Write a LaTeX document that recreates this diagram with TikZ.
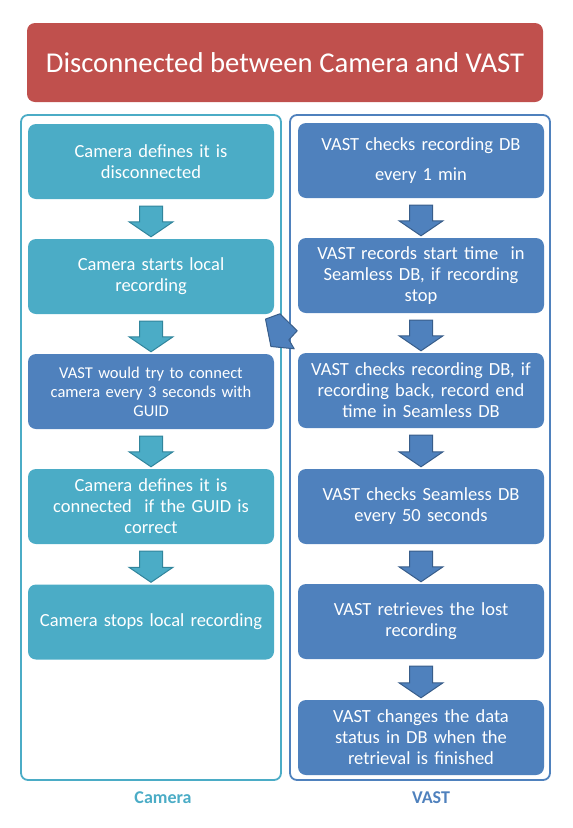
\documentclass[tikz,border=0pt]{standalone}
\usepackage{fontspec}
\setmainfont{Carlito}
\usetikzlibrary{calc}

\definecolor{titlered}{HTML}{C0504D}
\definecolor{camteal}{HTML}{4BACC6}
\definecolor{camtealdark}{HTML}{31859C}
\definecolor{vastblue}{HTML}{4F81BD}
\definecolor{vastbluedark}{HTML}{385D8A}

% block arrow from the bottom of one step to the top of the next
\newcommand{\stepdown}[3]{%
  \draw [#3] ($(#1.south)+(-11.5,-7)$) -- ($(#1.south)+(11.5,-7)$)
    -- ($(#2.north)+(11.5,17)$) -- ($(#2.north)+(22,17)$) -- ($(#2.north)+(0,2)$)
    -- ($(#2.north)+(-22,17)$) -- ($(#2.north)+(-11.5,17)$) -- cycle;}

\tikzset{
  titlebox/.style={rectangle, rounded corners=8pt, fill=titlered, text=white,
    minimum width=516pt, minimum height=79pt, font=\fontsize{28.7}{32}\selectfont},
  camstep/.style={rectangle, rounded corners=8pt, fill=camteal, text=white,
    minimum width=246pt, minimum height=75pt, inner sep=4pt, text width=238pt,
    align=center, font=\fontsize{18.5}{21}\selectfont},
  vaststep/.style={camstep, fill=vastblue, minimum width=244pt},
  campanel/.style={draw=camteal, line width=1.8pt, rounded corners=7pt},
  vastpanel/.style={draw=vastblue, line width=1.8pt, rounded corners=7pt},
  camarrow/.style={fill=camteal, draw=camtealdark, line width=1pt},
  vastarrow/.style={fill=vastblue, draw=vastbluedark, line width=1pt},
  panellabel/.style={font=\fontsize{18}{21}\selectfont\bfseries}
}

\begin{document}
\begin{tikzpicture}[x=1pt, y=1pt]
  \useasboundingbox (0,0) rectangle (573,-828);

  % Title
  \node [titlebox] (title) at (285,-62.5) {Disconnected between Camera and VAST};

  % Panels
  \draw [campanel] (21,-115) rectangle (281,-780);
  \draw [vastpanel] (290,-115) rectangle (550,-780);

  % Camera side
  \node [camstep] (cam1) at (151,-161.5) {Camera defines it is\\disconnected};
  \node [camstep] (cam2) at (151,-276.5) {Camera starts local\\recording};
  \node [vaststep, minimum width=246pt, font=\fontsize{16.5}{19}\selectfont] (cam3) at (151,-391.5)
    {VAST would try to connect\\camera every 3 seconds with\\GUID};
  \node [camstep] (cam4) at (151,-506.5) {Camera defines it is\\connected\ \ if the GUID is\\correct};
  \node [camstep] (cam5) at (151,-622) {Camera stops local recording};

  % VAST side
  \node [vaststep] (vast1) at (421,-160.5) {VAST checks recording DB\\[9pt]every 1 min};
  \node [vaststep] (vast2) at (421,-275.5) {VAST records start time\ \ in\\Seamless DB, if recording\\stop};
  \node [vaststep] (vast3) at (421,-390.5) {VAST checks recording DB, if\\recording back, record end\\time in Seamless DB};
  \node [vaststep] (vast4) at (421,-506.5) {VAST checks Seamless DB\\every 50 seconds};
  \node [vaststep] (vast5) at (421,-621.5) {VAST retrieves the lost\\recording};
  \node [vaststep] (vast6) at (421,-737.5) {VAST changes the data\\status in DB when the\\retrieval is finished};

  % Arrows
  \foreach \a/\b in {cam1/cam2, cam2/cam3, cam3/cam4, cam4/cam5}
    \stepdown{\a}{\b}{camarrow};
  \foreach \a/\b in {vast1/vast2, vast2/vast3, vast3/vast4, vast4/vast5, vast5/vast6}
    \stepdown{\a}{\b}{vastarrow};

  % VAST to camera
  \coordinate (cross) at (cam3.north east);
  \draw [vastarrow, line join=round] ($(cross)+(-3.3,7.3)$) -- ($(cross)+(-8.7,34.7)$)
    -- ($(cross)+(5.7,40)$) -- ($(cross)+(23,23)$) -- ($(cross)+(14.7,14)$)
    -- ($(cross)+(20,5)$) -- cycle;

  % Labels
  \node [panellabel, text=camteal] (camlabel) at (163,-798) {Camera};
  \node [panellabel, text=vastblue] (vastlabel) at (431,-798) {VAST};
\end{tikzpicture}
\end{document}
